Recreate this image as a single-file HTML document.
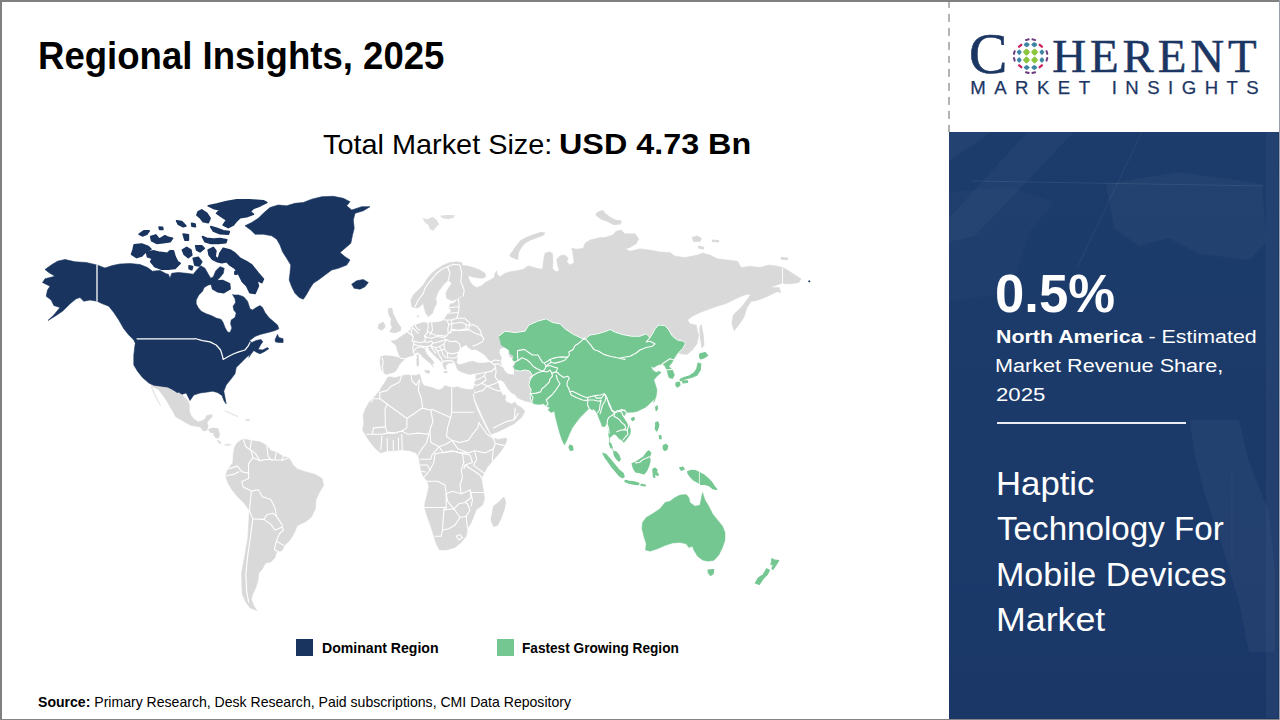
<!DOCTYPE html>
<html><head><meta charset="utf-8"><title>Regional Insights</title>
<style>
*{margin:0;padding:0;box-sizing:border-box}
html,body{width:1280px;height:720px;overflow:hidden;background:#fff}
body{font-family:"Liberation Sans",sans-serif;position:relative;color:#000}
.abs{position:absolute;white-space:nowrap;line-height:1;transform-origin:0 0}
#bt{position:absolute;left:0;top:0;width:1280px;height:2.4px;background:#808080}
#bl{position:absolute;left:0;top:0;width:2.2px;height:720px;background:#808080}
#bb{position:absolute;left:0;top:718.5px;width:1280px;height:1.5px;background:#858585}
#br{position:absolute;left:1278.8px;top:0;width:1.2px;height:720px;background:#9aa0ab}
#panel{position:absolute;left:949px;top:132px;width:330px;height:587px;background:linear-gradient(to bottom,#1c3c6c 0%,#1b3a6a 55%,#1a3768 100%);overflow:hidden}
#dash{position:absolute;left:948.4px;top:2px;width:1.4px;height:130px;background:repeating-linear-gradient(to bottom,#b4b4b4 0,#b4b4b4 7.9px,transparent 7.9px,transparent 13.9px);background-position:0 -2.1px}
.w{color:#fff}
</style></head><body>
<div id="bt"></div><div id="bl"></div><div id="bb"></div><div id="br"></div>
<div id="dash"></div>
<div id="panel"><svg width="329" height="586" viewBox="0 0 329 586" style="position:absolute;left:0;top:0">
<g fill="#fff">
<polygon points="0,0 42,0 0,29" opacity="0.035"/>
<polygon points="78,0 125,0 26,104 0,110 0,86" opacity="0.028"/>
<polygon points="0,60 60,55 105,70 80,100 60,160 0,170" opacity="0.02"/>
<polygon points="157,52 230,40 313,52 318,110 300,128 250,122 220,106 190,114 165,96" opacity="0.03"/>
<polygon points="241,288 290,288 300,330 320,380 326,440 326,520 300,520 290,470 275,420 255,360 245,320" opacity="0.04"/>
<rect x="317" y="0" width="12" height="586" opacity="0.035"/>
</g>
<g stroke="#fff" fill="none" stroke-width="0.8">
<path d="M23 49 L316 54" opacity="0.10"/>
<path d="M193 0 L128 136" opacity="0.08"/>
<path d="M283 338 L283 430" opacity="0.05"/>
</g>
</svg></div>

<div id="logo" style="position:absolute;left:0;top:0;width:1280px;height:132px;pointer-events:none">
<div class="abs" id="lgC" style="left:969px;top:24.5px;font-family:'Liberation Serif',serif;font-size:57.5px;color:#1c3664;-webkit-text-stroke:0.6px #1c3664">C</div>
<div class="abs" id="lgH" style="left:1052.3px;top:33.3px;font-family:'Liberation Serif',serif;font-size:46.9px;color:#1c3664;letter-spacing:3.9px;-webkit-text-stroke:0.5px #1c3664">HERENT</div>
<div class="abs" id="lgM" style="left:970.3px;top:79.3px;font-family:'Liberation Sans',sans-serif;font-size:18.6px;color:#1c3664;letter-spacing:8.45px;-webkit-text-stroke:0.25px #1c3664">MARKET INSIGHTS</div>
<svg style="position:absolute;left:1008px;top:33px" width="46" height="46" viewBox="1008 33 46 46">
<rect x="-2.78" y="-2.78" width="5.56" height="5.56" rx="1.5" transform="translate(1026.5 52.1) scale(1 1.000) rotate(45)" fill="#8cc63f"/>
<rect x="-2.78" y="-2.78" width="5.56" height="5.56" rx="1.5" transform="translate(1034.6 52.1) scale(1 1.000) rotate(45)" fill="#8cc63f"/>
<rect x="-2.78" y="-2.78" width="5.56" height="5.56" rx="1.5" transform="translate(1026.5 60.0) scale(1 1.000) rotate(45)" fill="#8cc63f"/>
<rect x="-2.78" y="-2.78" width="5.56" height="5.56" rx="1.5" transform="translate(1034.6 60.0) scale(1 1.000) rotate(45)" fill="#8cc63f"/>
<rect x="-2.45" y="-2.45" width="4.9" height="4.9" rx="1.4" transform="translate(1026.7 44.7) scale(1 0.844) rotate(45)" fill="#3f86a6"/>
<rect x="-2.45" y="-2.45" width="4.9" height="4.9" rx="1.4" transform="translate(1026.7 67.5) scale(1 0.844) rotate(45)" fill="#3f86a6"/>
<rect x="-2.45" y="-2.45" width="4.9" height="4.9" rx="1.4" transform="translate(1034.3 44.7) scale(1 0.844) rotate(45)" fill="#3f86a6"/>
<rect x="-2.45" y="-2.45" width="4.9" height="4.9" rx="1.4" transform="translate(1034.3 67.5) scale(1 0.844) rotate(45)" fill="#3f86a6"/>
<rect x="-1.91" y="-1.91" width="3.82" height="3.82" rx="1.1" transform="translate(1019.2 52.2) scale(1 1.185) rotate(45)" fill="#3f86a6"/>
<rect x="-1.91" y="-1.91" width="3.82" height="3.82" rx="1.1" transform="translate(1041.9 52.2) scale(1 1.185) rotate(45)" fill="#3f86a6"/>
<rect x="-1.91" y="-1.91" width="3.82" height="3.82" rx="1.1" transform="translate(1019.2 60.0) scale(1 1.185) rotate(45)" fill="#3f86a6"/>
<rect x="-1.91" y="-1.91" width="3.82" height="3.82" rx="1.1" transform="translate(1041.9 60.0) scale(1 1.185) rotate(45)" fill="#3f86a6"/>
<rect x="-2.50" y="-1.10" width="5.0" height="2.2" rx="0.7" transform="translate(1020.2 45.8) rotate(-40)" fill="#cc2262"/>
<rect x="-2.50" y="-1.10" width="5.0" height="2.2" rx="0.7" transform="translate(1040.8 45.8) rotate(40)" fill="#cc2262"/>
<rect x="-2.50" y="-1.10" width="5.0" height="2.2" rx="0.7" transform="translate(1020.2 66.3) rotate(40)" fill="#cc2262"/>
<rect x="-2.50" y="-1.10" width="5.0" height="2.2" rx="0.7" transform="translate(1040.8 66.3) rotate(-40)" fill="#cc2262"/>
<rect x="-2.30" y="-1.00" width="4.6" height="2.0" rx="0.7" transform="translate(1027.3 39.7) rotate(-15)" fill="#6d3b80"/>
<rect x="-2.30" y="-1.00" width="4.6" height="2.0" rx="0.7" transform="translate(1033.8 39.7) rotate(15)" fill="#6d3b80"/>
<rect x="-2.30" y="-1.00" width="4.6" height="2.0" rx="0.7" transform="translate(1027.3 72.6) rotate(15)" fill="#6d3b80"/>
<rect x="-2.30" y="-1.00" width="4.6" height="2.0" rx="0.7" transform="translate(1033.8 72.6) rotate(-15)" fill="#6d3b80"/>
<rect x="-2.30" y="-1.00" width="4.6" height="2.0" rx="0.7" transform="translate(1014.3 52.5) rotate(-75)" fill="#6d3b80"/>
<rect x="-2.30" y="-1.00" width="4.6" height="2.0" rx="0.7" transform="translate(1014.3 59.3) rotate(75)" fill="#6d3b80"/>
<rect x="-2.30" y="-1.00" width="4.6" height="2.0" rx="0.7" transform="translate(1046.9 52.5) rotate(75)" fill="#6d3b80"/>
<rect x="-2.30" y="-1.00" width="4.6" height="2.0" rx="0.7" transform="translate(1046.9 59.3) rotate(-75)" fill="#6d3b80"/>
</svg>
</div>
<svg id="map" style="position:absolute;left:0;top:0" width="1280" height="720" viewBox="0 0 1280 720">
<path d="M52 264.5 L57.5 261.2 L65 259.5 L75 261.8 L86.2 262.5 L97 265 L105 268 L112.5 265.5 L120 264 L130 263.5 L140 264.5 L147.5 267.5 L152.5 271.2 L160 270.5 L166.2 273.8 L168.3 274.2 L170 278.3 L171.7 273.3 L178.3 272.5 L186.7 273.3 L193.3 274.2 L196.7 270 L200.8 265.8 L205 268.3 L208.3 274.2 L210.8 278.3 L213.3 276.7 L215.8 270.8 L220 266.7 L224.2 268.3 L223.3 273.3 L220 277.5 L215.8 281.7 L213.3 284.2 L208.3 285 L204.2 287.5 L202.5 291.2 L198.8 295 L196.2 300 L196.2 303.8 L198.1 307.5 L201.2 311.2 L206.2 313.8 L211.2 315.6 L216.2 318.1 L221.2 319.4 L223.1 322.5 L225 327.5 L227.5 331.9 L230 332.5 L231.9 328.1 L230.6 323.8 L231.2 320 L235 317.5 L236.2 313.1 L233.8 310 L233.1 306.2 L235.6 302.5 L235 298.8 L232.5 294.4 L233.8 295 L238.8 295 L243.8 296.9 L247.5 301.2 L250 308.8 L252.5 310 L256.2 307.5 L260 305.6 L262.5 307.5 L265 312.5 L268.8 317.5 L273.1 321.2 L277.5 325 L278.8 328.8 L275 330.5 L270 332 L265 333.2 L260 334.5 L255 336.5 L249.4 340.8 L251.9 342.5 L256.2 340.5 L261 339.5 L262.8 341.8 L260.6 344.8 L258.1 349.4 L262.5 350 L267.5 347.5 L268.8 348.8 L263.8 351.9 L260 353.8 L256.9 352.5 L253.8 350.6 L251.2 353.8 L248.8 357.5 L250 354.2 L246.2 357.5 L240 363.8 L236.2 367.5 L235 373.8 L231.2 378.8 L226.2 385 L223.8 391.2 L225 397.5 L226.2 403.8 L224.2 401.2 L222 395.5 L217.5 392.5 L212.5 391.2 L207.5 392 L200 393 L193.8 395 L190 400.5 L186.2 393 L180 395 L175 391.2 L166.2 387.5 L153.8 385.5 L148.8 383 L142.5 377.5 L137.5 371.2 L133.8 365 L133.8 355 L135 345 L137 338.8 L136.2 345 L133.8 340 L128.8 335 L123.8 328.8 L118.8 320 L113.8 312.5 L108.8 306.2 L102.5 303.8 L97 301.2 L90 300 L83.8 301.2 L80 297.5 L76.2 298.8 L70 303.8 L62.5 311.2 L55 316.2 L48 320.5 L53.8 315 L60 307.5 L53.8 305.5 L51.2 300 L46.2 296.2 L47.5 290 L50 286.2 L42.5 282.5 L45 278.8 L55 276.2 L48.8 272.5 L45 269.5Z" fill="#19355f" stroke="#19355f" stroke-width="0.6" stroke-linejoin="round"/>
<path d="M275 340 L277.5 334.4 L278.8 337.5 L283.1 338.8 L283.1 342.5 L278.8 342.5 L275.6 341.9Z" fill="#19355f" stroke="#19355f" stroke-width="0.6" stroke-linejoin="round"/>
<path d="M208.3 205.8 L216.7 204.2 L226.7 201.7 L236.7 200 L250 200 L263.3 200.8 L266.7 202.5 L260 205.8 L253.3 208.3 L250 211.7 L253.3 214.2 L246.7 216.7 L240 217.5 L236.7 220.8 L233.3 225 L228.3 227.5 L223.3 225 L226.7 220 L221.7 216.7 L216.7 213.3 L220 210 L213.3 208.3Z" fill="#19355f" stroke="#19355f" stroke-width="1.8" stroke-linejoin="round"/>
<path d="M198.3 211.7 L201.7 210 L206.7 213.3 L210 218.3 L208.3 222.5 L203.3 221.7 L200 217.5 L197 215Z" fill="#19355f" stroke="#19355f" stroke-width="1.8" stroke-linejoin="round"/>
<path d="M202.5 236.7 L206.7 238.3 L213.3 239.2 L220 238.7 L226.7 240 L225.8 242.5 L218.3 243.3 L210.8 243.3 L205 241.7Z" fill="#19355f" stroke="#19355f" stroke-width="1.8" stroke-linejoin="round"/>
<path d="M210.8 226.7 L216.7 228.3 L223.3 230.8 L229.2 231.7 L228.3 234.2 L220 233.7 L213.3 230.8Z" fill="#19355f" stroke="#19355f" stroke-width="1.8" stroke-linejoin="round"/>
<path d="M139.2 234.2 L144.2 230.8 L149.2 230.8 L146.7 234.2 L142.5 235.8Z" fill="#19355f" stroke="#19355f" stroke-width="1.8" stroke-linejoin="round"/>
<path d="M150.8 236.7 L155.8 235 L159.2 239.2 L165 235.8 L168.3 237.5 L172.5 238.3 L170 241.7 L163.3 242.5 L156.7 243.3 L151.7 240.8Z" fill="#19355f" stroke="#19355f" stroke-width="1.8" stroke-linejoin="round"/>
<path d="M159.2 227.2 L162.5 227.5 L162.8 229.3 L159.7 229.3Z" fill="#19355f" stroke="#19355f" stroke-width="1.8" stroke-linejoin="round"/>
<path d="M176.7 220.8 L181.7 221.7 L185.8 225.8 L183.3 226.7 L178.3 224.2Z" fill="#19355f" stroke="#19355f" stroke-width="1.8" stroke-linejoin="round"/>
<path d="M183.3 234.2 L188.3 235 L188.3 240 L185 240Z" fill="#19355f" stroke="#19355f" stroke-width="1.8" stroke-linejoin="round"/>
<path d="M191.7 223.3 L195 224.2 L195.3 226.7 L192 226Z" fill="#19355f" stroke="#19355f" stroke-width="1.8" stroke-linejoin="round"/>
<path d="M134.2 245 L141.7 244.2 L148.3 246.7 L150.8 249.2 L145 252.5 L141.7 255.8 L136.7 257.5 L131.7 254.2 L133.3 249.2Z" fill="#19355f" stroke="#19355f" stroke-width="1.8" stroke-linejoin="round"/>
<path d="M146.7 252.5 L153.3 250.8 L160 252.5 L167.5 253.3 L170 250.8 L173.3 250.8 L175 256.7 L177.5 261.7 L180 263.3 L175 268.3 L168.3 269.2 L161.7 269.2 L155 266.7 L150.8 261.7 L152.5 258.3 L147.5 256.7Z" fill="#19355f" stroke="#19355f" stroke-width="1.8" stroke-linejoin="round"/>
<path d="M182.5 250 L186.7 247.5 L190.8 250 L191.7 255 L188.3 257.5 L184.2 254.2Z" fill="#19355f" stroke="#19355f" stroke-width="1.8" stroke-linejoin="round"/>
<path d="M193.3 258.3 L198.3 257.5 L201.7 261.7 L199.2 265.8 L195 265Z" fill="#19355f" stroke="#19355f" stroke-width="1.8" stroke-linejoin="round"/>
<path d="M195.8 245.8 L201.7 245.8 L204.2 248.3 L200 251.7 L196.7 250Z" fill="#19355f" stroke="#19355f" stroke-width="1.8" stroke-linejoin="round"/>
<path d="M189.2 265.8 L192.5 266.7 L191.7 269.7 L189.2 268.7Z" fill="#19355f" stroke="#19355f" stroke-width="1.8" stroke-linejoin="round"/>
<path d="M208.3 250 L213.3 247.5 L215.8 250.8 L215 256.7 L218.3 259.2 L220 253.3 L223.3 248.3 L230 250 L235 253.3 L240 258.3 L246.7 261.7 L251.7 265 L258.3 273.3 L263.3 279.2 L261.7 282.5 L256.7 280 L258.3 285.8 L255 293.3 L250 292.5 L246.7 285.8 L242.5 281.7 L239.2 275 L235 268.3 L230 265 L226.7 261.7 L221.7 262.5 L217.5 261.7 L212.5 259.2 L209.2 255Z" fill="#19355f" stroke="#19355f" stroke-width="1.8" stroke-linejoin="round"/>
<path d="M211.9 285 L216.2 281.2 L222.5 280.6 L229.4 283.8 L230 288.8 L223.8 292.5 L217.5 291.5 L212.8 288.8Z" fill="#19355f" stroke="#19355f" stroke-width="1.8" stroke-linejoin="round"/>
<path d="M235 271.7 L236.7 272 L236.7 274.2 L235 274Z" fill="#19355f" stroke="#19355f" stroke-width="1.8" stroke-linejoin="round"/>
<path d="M245 225.8 L251.7 222.5 L258.3 218.3 L263.3 213.3 L270 207.5 L278.3 205 L286.7 205.8 L295 203.3 L303.3 202.5 L311.7 199.2 L321.7 196.7 L333.3 196.3 L343.3 198.3 L350 201.7 L346.7 205.8 L351.7 210 L361.7 206.7 L370 206.7 L363.3 210.8 L355 213.3 L353.3 220 L354.2 228.3 L352.5 235 L350.8 243.3 L345 248.3 L340 252.5 L345 256.7 L350 260 L346.7 265 L338.3 268.3 L331.7 270 L325 275 L318.3 280 L313.3 283.3 L310 288.3 L306.7 294.2 L303.3 299.2 L299.2 297.5 L295 293.3 L291.7 286.7 L289.2 280 L290 273.3 L290.8 265 L286.7 258.3 L282.5 251.7 L280 245 L276.7 239.2 L271.7 235.8 L263.3 234.2 L255 234.2 L250.8 230Z" fill="#19355f" stroke="#19355f" stroke-width="0.6" stroke-linejoin="round"/>
<path d="M351.7 284.2 L356.7 280.8 L363.3 279.5 L368.3 282.5 L365 286.7 L360 289.2 L354.2 288.3Z" fill="#19355f" stroke="#19355f" stroke-width="0.6" stroke-linejoin="round"/>
<path d="M151.1 385.8 L167.8 387.8 L172.2 390 L176.7 393.3 L178.9 392.8 L182.2 395 L185.6 398.3 L188.3 401.3 L189.4 405.6 L189.4 411.1 L191.1 415.6 L193.9 418.9 L197.8 421.7 L201.7 421.1 L205 418.9 L206.7 415.6 L212.2 414.4 L211.7 417.2 L208.9 420 L206.7 422.8 L205 424.4 L203.3 426.7 L202.2 428.3 L198.9 426.7 L195 426.1 L191.1 425.6 L186.7 423.3 L181.1 420 L175.6 416.7 L173.3 412.2 L170 406.7 L166.1 400 L162.2 394.4 L158.3 389.4Z" fill="#d9d9d9" stroke="#d9d9d9" stroke-width="0.5" stroke-linejoin="round"/>
<path d="M202.8 423.9 L206.7 422.8 L207.8 425.6 L206.7 430 L203.3 430.6 L202 428.3Z" fill="#d9d9d9" stroke="#d9d9d9" stroke-width="1.2" stroke-linejoin="round"/>
<path d="M208.9 429.4 L213.3 428.3 L217.8 428.9 L218.3 431.1 L214.4 432.8 L210.6 432.2Z" fill="#d9d9d9" stroke="#d9d9d9" stroke-width="1.2" stroke-linejoin="round"/>
<path d="M214.4 432.8 L218.3 431.3 L219.4 434.4 L218.3 437.8 L215.6 437.2 L213.9 435Z" fill="#d9d9d9" stroke="#d9d9d9" stroke-width="1.2" stroke-linejoin="round"/>
<path d="M216.7 440 L219.4 440.6 L221.7 443.3 L220 443.9 L217.8 442.2Z" fill="#dddddd" stroke-linejoin="round"/>
<path d="M223.9 444.4 L227.8 443.6 L232.2 444.4 L228.9 446.1 L225 445.8Z" fill="#e6e6e6" stroke-linejoin="round"/>
<path d="M224.4 410.2 L228.9 411.7 L234.4 414.4 L238.3 416.1 L237.8 416.9 L233.3 415.6 L227.8 412.8 L224.2 411.1Z" fill="#e6e6e6" stroke-linejoin="round"/>
<path d="M245 419.4 L248.3 418.7 L251.1 420.2 L248.3 421.1 L245.6 420.9Z" fill="#e2e2e2" stroke-linejoin="round"/>
<path d="M150.6 386.7 L152.2 386.7 L155 393.3 L158.3 400 L161.1 405.6 L160 406.1 L156.7 400 L153.3 393.3Z" fill="#e8e8e8" stroke-linejoin="round"/>
<path d="M237.5 442.5 L243.1 438.9 L251.4 440.6 L259.7 441.7 L266.7 445.3 L270.8 450.8 L276.4 452.2 L283.3 456.4 L288.9 457.8 L293.1 464.7 L297.2 468.9 L305.6 471.7 L315.3 474.4 L322.2 478.6 L323.6 485.6 L319.4 492.5 L316.1 499.4 L315.3 509.2 L311.1 517.5 L305.6 521.7 L297.2 525.8 L294.4 532.8 L290.3 539.7 L284.7 545.3 L281.9 550.8 L276.4 552.2 L275 557.8 L270.8 561.9 L265.3 563.3 L262.5 568.9 L258.9 573.1 L257.8 581.4 L255.6 588.3 L252.8 593.9 L251.4 599.4 L254.2 606.4 L256.9 610.6 L250 607.8 L245.8 602.2 L242.2 593.9 L241.7 584.2 L241.7 571.7 L243.9 560.6 L245.8 549.4 L247.8 538.3 L248.6 524.4 L249.4 510.6 L244.4 503.6 L237.5 496.7 L231.9 489.7 L227.8 482.8 L225.6 475.8 L227.8 468.9 L232.8 462.8 L233.3 453.6 L234.7 446.7Z" fill="#d9d9d9" stroke="#d9d9d9" stroke-width="0.5" stroke-linejoin="round"/>
<path d="M387.2 377.8 L389.4 376.7 L395 377.8 L400.6 376.1 L406.1 375 L411.7 375 L416.1 375.6 L418.9 373.9 L419.7 374.7 L420.6 376.7 L421.7 382.2 L423.9 385.6 L429.4 386.7 L433.9 388.3 L438.3 390 L441.7 388.9 L445 385.6 L448.3 386.7 L452.8 387.8 L457.2 386.7 L461.7 388.3 L467.2 389.4 L472.8 389.4 L474.1 386.7 L474.2 392.5 L472.5 394.6 L474.2 401.9 L477.7 411.2 L481.9 419.6 L486 427.9 L490.2 435.2 L493.3 438.3 L498.5 439.4 L505.8 437.9 L507.1 439.6 L504.8 445.6 L499.6 452.9 L493.3 460.2 L487.1 467.5 L482.9 475.8 L481.2 477.5 L482.5 485 L483.8 492.5 L484.5 498.8 L482.5 505 L476.2 510 L473.8 516.2 L471.2 522.5 L467.5 528.8 L466.2 536.2 L461.2 542.5 L455 547.5 L446.2 550 L439.5 550 L436.2 543.8 L433.8 536.2 L431.2 527.5 L427.5 517.5 L424.5 507.5 L425 502.5 L427 495 L428.8 487.5 L427.5 481.2 L423.8 477.5 L421.2 471.2 L420 465 L418.8 457.5 L416.2 452.9 L410 450.8 L401.7 449.8 L393.3 450.8 L387.1 450.8 L380.8 452.9 L375.6 448.8 L370.4 442.5 L366.2 436.2 L362.5 430 L363.8 423.8 L363.1 415.4 L365.2 409.2 L369.4 401.9 L374.6 396.7 L379.8 390.4 L381.7 386.7 L385 382.2Z" fill="#d9d9d9" stroke="#d9d9d9" stroke-width="0.5" stroke-linejoin="round"/>
<path d="M503.8 497.5 L505.5 502.5 L503.8 510 L501.2 517.5 L497.5 525 L493.8 526.2 L491.2 520 L492.5 512.5 L493.8 506.2 L498.8 502.5Z" fill="#d9d9d9" stroke="#d9d9d9" stroke-width="1.2" stroke-linejoin="round"/>
<path d="M380.6 356.7 L385 355.6 L391.7 356.1 L397.2 357.2 L400.6 358.3 L398.9 354.4 L397.2 350 L396.1 345.6 L391.7 341.7 L391.1 340.9 L396.1 340 L400.6 336.7 L403.9 334.4 L407.2 332.2 L410.6 330 L411.7 326.7 L415 325 L420 323.3 L423.3 322.5 L428.3 323 L433.3 322.5 L440 321.7 L444.2 320 L445.8 316.7 L448.3 313.3 L451.7 310.8 L449.2 308.3 L450 304.2 L454.2 303 L458.3 298.7 L463.3 296.3 L460.8 296.3 L456.7 299.2 L451.7 300.8 L446.7 298.3 L445.8 293.3 L448.3 288.3 L451.7 283.3 L448.3 280 L443.3 285 L438.3 291.7 L435.8 298.3 L436.7 303.3 L434.2 308.3 L432.5 313.3 L428.3 316.7 L425.8 313.3 L424.2 308.3 L423.3 303.3 L420 306.7 L416.7 308.3 L411.7 306.7 L410.8 300 L413.3 295 L418.3 290 L423.3 285 L427.5 278.3 L431.7 273.3 L436.7 269.2 L443.3 265 L450 262.5 L456.7 261.7 L461.7 262.5 L462.5 265.8 L466.7 265.8 L473.3 267.5 L480 270 L485 273.3 L485.8 276.7 L482.5 278.3 L477.5 278 L471.7 276.7 L468.3 275.3 L469.2 280 L472.5 285 L476.7 287.5 L481.7 285.8 L485 282.5 L490 280 L494.2 277.5 L495 273.3 L496.7 270.8 L497.5 275 L500 276.7 L505 273.3 L510 271.7 L516.7 270.8 L523.3 269.2 L528.3 265.8 L531.7 266.7 L536.7 268.3 L542.5 269.2 L543.3 261.7 L545 253.3 L549.2 251.7 L552.5 253.3 L553 261.7 L552.5 268.3 L555.8 271.7 L559.2 270.8 L557.5 265 L556.7 259.2 L560 255.8 L565 255 L568.3 258.3 L566.7 261.7 L570 265 L574.2 262.5 L572.5 251.7 L571.7 248.3 L576.7 249.2 L583.3 248.3 L585 243.3 L590 240 L600 237.5 L605 237.5 L612.5 235 L616.2 231.2 L621.2 230 L625 233.8 L635 233.8 L638.8 238.8 L636.2 243.8 L630 247.5 L625 248.8 L630 251.2 L640 248.8 L650 250 L660 252 L670 252.5 L675 256.2 L685 257.5 L697.5 255 L702.5 253 L710 255 L717.5 258.8 L727.5 260 L737.5 261.2 L741.2 267.5 L750 266.2 L760 267.5 L768.8 265 L777.5 266.2 L782.5 267.5 L787.5 270 L795 275 L801.2 278.8 L798.8 282.5 L791.2 283.8 L785 283.8 L781.8 283.2 L770 287.5 L779.2 287.5 L780.8 292.5 L776.8 291.8 L766.8 296.8 L758.2 300 L750.8 301.8 L746.8 308.2 L744.2 316.8 L740 323.2 L734.2 330.8 L731.8 323.2 L733.2 315 L741.8 306.8 L746.8 300 L750.8 294.5 L746.2 294.5 L740 296.8 L726.8 303.2 L717.5 306.2 L710 308.8 L700 312.5 L692.5 316.2 L687.5 320 L690 323.8 L696.2 325 L697.5 331.2 L698.8 335 L697 343.8 L692.5 350 L687 354.5 L681.5 354 L670 350 L640 355 L602.5 372.5 L565 385 L540 395 L531.2 402.5 L526.7 401.5 L521.5 399.8 L517.3 397.7 L515.2 394.6 L511 392.5 L506.9 387.3 L503.8 382.1 L500 379.6 L497.9 382.1 L499.2 387.3 L501.2 392.5 L503.3 395.6 L505.2 394.6 L505.8 398.3 L504.8 399.8 L506.9 401.9 L511.7 404 L515.2 401.9 L516.7 405 L520.8 407.1 L525 411.2 L521.5 417.5 L514.2 423.8 L505.8 427.9 L497.5 432.1 L491.2 434.2 L489.2 430 L484 419.6 L478.8 408.1 L475 399.2 L474.2 394.6 L475.6 392.5 L474.6 389.4 L474.4 384.4 L475.6 380 L476.1 374.4 L473.9 373.3 L470.6 374.4 L467.2 373.9 L463.9 372.8 L460.6 371.7 L457.8 370 L456.7 367.8 L456.1 365.6 L455.2 363.3 L454.4 362.8 L451.7 362.8 L448.3 363.3 L447.2 364.4 L445.6 366.1 L446.1 368.9 L445.6 370.2 L443.9 367.8 L442.8 364.4 L441.7 362.8 L440 360.6 L437.4 358.3 L434.7 355.8 L431.9 352.8 L429.1 349.8 L427.2 347.2 L424.8 348.3 L425.2 351.1 L426.8 353.9 L429 356.7 L431.4 359.1 L433.4 361.6 L434.1 363.8 L431.9 363.8 L432.6 365.6 L433.3 367.2 L431.7 365 L430 363.1 L428.3 361.7 L425.6 359.4 L422.8 357.2 L420.6 354.4 L417.8 352.2 L415 353.3 L413.3 355.6 L410.6 356.1 L407.2 357.2 L405 358.3 L403.9 360 L401.1 362.8 L398.9 365.6 L397.2 368.9 L395 371.7 L390.6 373.3 L386.1 374.4 L383.3 372.8 L381.1 368.9 L380 362.2Z" fill="#d9d9d9" stroke="#d9d9d9" stroke-width="0.5" stroke-linejoin="round"/>
<path d="M388.3 309.2 L391.7 308.3 L392.5 313.3 L395 318.3 L397.5 323.3 L400.8 327.5 L400 330.8 L395 332.5 L390 331.7 L392.5 327.5 L390.8 323.3 L391.7 319.2 L389.2 315Z" fill="#d9d9d9" stroke="#d9d9d9" stroke-width="1.2" stroke-linejoin="round"/>
<path d="M379.2 324.2 L383.3 322.5 L385 326.7 L381.7 330 L378.3 328.3Z" fill="#d9d9d9" stroke="#d9d9d9" stroke-width="1.2" stroke-linejoin="round"/>
<path d="M416.6 315.2 L418.8 315 L419 317.5 L417 317.6Z" fill="#e4e4e4" stroke-linejoin="round"/>
<path d="M425 370.6 L429.4 371.1 L428.9 373.1 L426.1 372.2Z" fill="#d9d9d9" stroke="#d9d9d9" stroke-width="1.2" stroke-linejoin="round"/>
<path d="M417 358.9 L418.3 358.9 L418.3 365.6 L417.2 365.6Z" fill="#d9d9d9" stroke="#d9d9d9" stroke-width="1.2" stroke-linejoin="round"/>
<path d="M417.2 355 L418.1 355 L418.1 357.8 L417.3 357.8Z" fill="#d9d9d9" stroke="#d9d9d9" stroke-width="1.2" stroke-linejoin="round"/>
<path d="M444.1 371.8 L447 371.8 L447 372.4 L444.3 372.4Z" fill="#d9d9d9" stroke="#d9d9d9" stroke-width="1.2" stroke-linejoin="round"/>
<path d="M422.5 218.3 L427.5 219.2 L432.5 216.7 L436.7 220 L439.2 224.2 L435.8 227.5 L433.3 230.8 L430 229.2 L428.3 225 L425 222.5Z" fill="#dedede" stroke-linejoin="round"/>
<path d="M440 215.8 L446.7 215 L455 215.3 L453.3 218 L448.3 219.2 L442.5 218.3Z" fill="#dedede" stroke-linejoin="round"/>
<path d="M510 255 L513.3 250.8 L516.7 245.8 L520.8 240.8 L526.7 237.5 L533.3 235 L540.8 232.5 L544.7 233 L543.3 235 L536.7 237.5 L530 240 L524.2 243.3 L520.8 247.5 L518.3 252.5 L517.5 259.2 L515 258.3 L511.7 257Z" fill="#d9d9d9" stroke="#d9d9d9" stroke-width="1.2" stroke-linejoin="round"/>
<path d="M597.5 212.5 L602.5 210.5 L605 213.8 L610 217.5 L615 220 L621.2 221.2 L620 223.8 L613.8 224.5 L607.5 221.2 L601.2 218.8 L596.2 215Z" fill="#d9d9d9" stroke="#d9d9d9" stroke-width="1.2" stroke-linejoin="round"/>
<path d="M692.5 237.5 L697.5 236.2 L701.2 238.8 L700 241.2 L693.8 241.2Z" fill="#d9d9d9" stroke="#d9d9d9" stroke-width="1.2" stroke-linejoin="round"/>
<path d="M712.5 240 L718.8 240.8 L718 242 L712.5 241.5Z" fill="#d9d9d9" stroke="#d9d9d9" stroke-width="1.2" stroke-linejoin="round"/>
<path d="M698.8 246.2 L703.8 247.5 L703 249 L698.8 248Z" fill="#d9d9d9" stroke="#d9d9d9" stroke-width="1.2" stroke-linejoin="round"/>
<path d="M781.2 257.5 L787.5 258 L787.5 259.5 L781.8 259.2Z" fill="#d9d9d9" stroke="#d9d9d9" stroke-width="1.2" stroke-linejoin="round"/>
<path d="M701.2 325 L703 335 L703.8 345 L702 347.5 L700.5 337.5 L700 327.5Z" fill="#d9d9d9" stroke="#d9d9d9" stroke-width="1.2" stroke-linejoin="round"/>
<path d="M457.8 353.3 L459.4 348.9 L462.8 346.7 L466.1 345 L468.3 347.8 L471.7 350 L475 349.4 L478.3 351.1 L481.7 353.3 L485 355.6 L487.2 358.3 L490.6 361.7 L483.9 362.8 L478.3 362.8 L472.8 361.1 L468.3 361.7 L463.9 363.3 L459.4 364.4 L456.7 362.8 L457.8 357.8Z" fill="#ffffff" stroke-linejoin="round"/>
<path d="M500 348.9 L503.9 347.8 L508.3 346.7 L510 350 L508.3 353.3 L509.4 356.7 L513.9 358.9 L513.9 364.4 L512.2 366.7 L513.9 368.9 L513.9 374.4 L508.3 373.9 L505 371.1 L502.8 366.7 L500.6 362.2 L501.7 357.8 L499.4 353.3Z" fill="#ffffff" stroke-linejoin="round"/>
<path d="M498.8 336.2 L505 331.2 L515 332.5 L525 331.2 L528.8 325 L537.5 321.2 L546.2 318.8 L552.5 322.5 L560 323.8 L565 328.8 L572.5 333.8 L580 337.5 L584.5 339.5 L590 335 L597.5 333.8 L606.2 331.2 L610 329.5 L615 332 L622.5 334.5 L631.2 336.2 L640 336.2 L646.2 333.8 L650 337.5 L652.5 333.8 L655 328.8 L658.8 325 L665 325.5 L668.8 330 L672.5 336.2 L677.5 340 L683.8 341.2 L685.5 343.8 L682.5 348.8 L678.8 352.5 L676.2 356.2 L673.8 360 L671.2 363.8 L668.8 366.2 L672.5 370 L674.5 375 L672.5 378.8 L668.8 377.5 L667.5 372.5 L666.2 368.8 L665 366.2 L662.5 363.8 L658 365 L653.8 367.5 L651.2 366.2 L652.5 370 L656.2 372.5 L658.8 371.2 L661.2 372.5 L657 376.2 L653.8 380 L655.5 385 L657 390 L656.2 396.2 L653.8 402.5 L654.3 398.3 L652.9 400.4 L649.4 403.9 L645.3 407.4 L641.1 409.4 L636.9 411.5 L632.8 412.2 L628.6 412.2 L625.8 412.9 L623.8 416.4 L625.1 419.9 L627.2 422.6 L629.3 426.1 L630.7 430.3 L630 434.4 L627.2 438.6 L623.8 442.5 L621.7 440 L618.9 438.6 L616.8 435.8 L614.7 434.2 L612.6 435.1 L610.8 436.9 L609.7 437.9 L608.8 436.5 L608.5 430.3 L607.8 425.4 L606.4 424 L604.7 426.8 L602.2 426.4 L600.8 422.6 L598.8 417.8 L597.4 413.6 L595.3 410.8 L593.2 408.8 L592.5 410 L588.8 408.8 L586.2 411.2 L583.8 413.8 L580 417.5 L576.2 422.5 L572.5 427.5 L569.5 433.8 L567 440 L564.5 445 L562 440 L559.5 432.5 L557.5 425 L555.5 417.5 L554.5 411.2 L551.2 412.5 L548 410 L550 407.5 L546.2 406.2 L543.8 403.8 L538.8 404.5 L533.8 403.8 L531.2 402.5 L530 395 L531.2 390 L528.8 385 L530 380 L532.5 376.2 L530 371.2 L525 370 L520 371.2 L515 370 L513.8 366.2 L516.2 362.5 L512.5 360 L513.8 356.2 L510 353.8 L508.8 350 L505 347.5 L501.2 345 L500 340Z" fill="#75c792" stroke="#75c792" stroke-width="0.5" stroke-linejoin="round"/>
<path d="M570 445 L572.5 446.2 L573 450 L570.5 450.5 L569 447.5Z" fill="#75c792" stroke="#75c792" stroke-width="1.2" stroke-linejoin="round"/>
<path d="M608.9 437.5 L609.9 437.5 L610.3 443.1 L609.3 443.1Z" fill="#a6dbbd" stroke-linejoin="round"/>
<path d="M609.3 443.2 L610.7 443.5 L612.2 447.5 L611 447.8Z" fill="#75c792" stroke="#75c792" stroke-width="1.2" stroke-linejoin="round"/>
<path d="M611.4 448.1 L612.4 447.8 L614.2 451.4 L613.3 451.8Z" fill="#a6dbbd" stroke-linejoin="round"/>
<path d="M613.8 451.5 L616.4 452.1 L618.9 455.3 L620.3 459.4 L618.9 461.1 L616.4 458.8 L614.2 455.3Z" fill="#75c792" stroke="#75c792" stroke-width="1.2" stroke-linejoin="round"/>
<path d="M655.7 406.7 L657.1 406 L657.5 408.8 L656.1 410.6Z" fill="#75c792" stroke="#75c792" stroke-width="1.2" stroke-linejoin="round"/>
<path d="M631.4 418.5 L633.9 417.5 L634.4 419.2 L632.5 420.6Z" fill="#75c792" stroke="#75c792" stroke-width="1.2" stroke-linejoin="round"/>
<path d="M700 353.8 L705 352.5 L707.5 355.5 L703.8 358 L700.5 358.8 L699.5 356.2Z" fill="#75c792" stroke="#75c792" stroke-width="1.2" stroke-linejoin="round"/>
<path d="M698.2 363 L700.8 364 L700.2 370 L697 375 L691.5 377.5 L685.2 379 L680.8 380.8 L680 379.5 L684 377.5 L689.8 375.8 L694.2 372.8 L696.8 369 L697.5 365.5Z" fill="#75c792" stroke="#75c792" stroke-width="1.2" stroke-linejoin="round"/>
<path d="M676.2 382.5 L679.2 382 L680 385 L677.5 387 L675.8 385Z" fill="#75c792" stroke="#75c792" stroke-width="1.2" stroke-linejoin="round"/>
<path d="M682.5 381 L687.5 380.8 L687.5 382.5 L683 382.8Z" fill="#75c792" stroke="#75c792" stroke-width="1.2" stroke-linejoin="round"/>
<path d="M655.7 422.6 L657.8 421.9 L658.9 424.7 L657.8 428.9 L656.7 431 L655.3 428.9 L655.7 425.4Z" fill="#75c792" stroke="#75c792" stroke-width="1.2" stroke-linejoin="round"/>
<path d="M663.3 445.6 L666.1 444.4 L667.8 446.2 L666.8 449.7 L664.4 450.4 L663.1 448.3Z" fill="#75c792" stroke="#75c792" stroke-width="1.2" stroke-linejoin="round"/>
<path d="M659.2 435.8 L660.8 435.6 L661.2 438.6 L659.9 438.9Z" fill="#75c792" stroke="#75c792" stroke-width="1.2" stroke-linejoin="round"/>
<path d="M602.9 453.2 L605.7 454.2 L609.2 458.1 L612.6 462.2 L616.1 466.4 L619.6 470.6 L623.1 473.3 L624.2 476.8 L622.4 477.8 L618.9 475.4 L615.4 471.2 L611.9 467.1 L608.5 462.2 L605 457.4Z" fill="#75c792" stroke="#75c792" stroke-width="1.2" stroke-linejoin="round"/>
<path d="M625.1 480.3 L628.6 481 L634.2 481.9 L639 483.3 L638.3 484.7 L633.5 484.2 L627.9 482.8 L625.1 481.7Z" fill="#75c792" stroke="#75c792" stroke-width="1.2" stroke-linejoin="round"/>
<path d="M641.1 484.4 L645.3 485 L645.3 485.8 L641.1 485.4Z" fill="#75c792" stroke="#75c792" stroke-width="1.2" stroke-linejoin="round"/>
<path d="M632.1 463.6 L635.6 462.2 L639.7 459.4 L643.9 456.7 L646.7 452.5 L648.8 450.8 L650.8 453.2 L649.4 456.7 L650.1 460.8 L648.8 465.7 L646.7 470.6 L643.9 474 L639.7 472.6 L635.6 471.9 L633.5 468.5Z" fill="#75c792" stroke="#75c792" stroke-width="1.2" stroke-linejoin="round"/>
<path d="M652.9 469.2 L655 468.1 L657.1 469.9 L656.4 471.9 L658.5 474.7 L657.1 475.4 L655 473.3 L654.7 477.5 L653.3 476.8Z" fill="#75c792" stroke="#75c792" stroke-width="1.2" stroke-linejoin="round"/>
<path d="M679.7 467.8 L682.8 467.1 L684.2 469.2 L681.4 470.3Z" fill="#75c792" stroke="#75c792" stroke-width="1.2" stroke-linejoin="round"/>
<path d="M687.6 471.9 L691.1 470.3 L695.3 470.6 L699.4 472.6 L703.6 474.7 L707.8 478.2 L711.2 481.7 L714 485.8 L716.8 489.3 L713.3 488.9 L709.2 485.8 L705 484.4 L700.8 484.4 L698.1 482.4 L693.9 480.3 L690.4 476.8 L688.3 474Z" fill="#75c792" stroke="#75c792" stroke-width="1.2" stroke-linejoin="round"/>
<path d="M642.5 522.5 L646.2 517.5 L652.5 513.8 L660 508.8 L665 502.5 L670 501.2 L675 497.5 L680 495 L686.2 494.5 L688.8 497.5 L690 502.5 L695 506.2 L700 505 L701.2 498.8 L702.5 492.5 L705 500 L708.8 506.2 L712.5 513.8 L717.5 520 L722.5 526.2 L725 532.5 L725 540 L722.5 547.5 L718.8 555 L713.8 560.5 L707.5 561.2 L702.5 560 L697.5 556.2 L693.8 550 L692.5 546.2 L688.8 547.5 L686.2 543.8 L680 542.5 L672.5 543 L665 545.5 L657.5 548.8 L650 551.2 L645.5 550 L646.2 543.8 L643.8 536.2 L642 528.8Z" fill="#75c792" stroke="#75c792" stroke-width="0.5" stroke-linejoin="round"/>
<path d="M708 570 L713.8 569.5 L713 573.8 L710.5 575.5 L708.5 573Z" fill="#75c792" stroke="#75c792" stroke-width="1.2" stroke-linejoin="round"/>
<path d="M771.9 558.7 L775 560.2 L778.7 560.6 L775.3 566 L772.9 569.4 L771.9 568.4 L773.4 565 L770.9 564.5 L771.8 561.5Z" fill="#75c792" stroke="#75c792" stroke-width="1.2" stroke-linejoin="round"/>
<path d="M766.6 568.9 L769.5 570.3 L767.1 574.7 L763.2 578.6 L759.3 584.4 L755.4 583 L758.3 578.1 L763.2 574.7Z" fill="#75c792" stroke="#75c792" stroke-width="1.2" stroke-linejoin="round"/>
<path d="M808.7 280.8 L809.9 280.8 L809.9 282 L808.7 282Z" fill="#19355f" stroke="#19355f" stroke-width="0.6" stroke-linejoin="round"/>
<path d="M97 265 L97 301.2" fill="none" stroke="#fff" stroke-width="1.3" stroke-linejoin="round" stroke-linecap="round"/>
<path d="M137 338.8 L195 338.8 L195 338.5 L202.5 340.6 L210 341.9 L216.2 345 L220.6 350 L222.5 356.2 L223.1 359.4 L228.8 356.2 L233.8 353.8 L238.8 351.9 L245 350 L248.1 346.2 L250 342.5" fill="none" stroke="#fff" stroke-width="1.2" stroke-linejoin="round" stroke-linecap="round"/>
<path d="M227.8 468.9 L237.5 466.1 L241.7 471.7" fill="none" stroke="#fff" stroke-width="1.1" stroke-linejoin="round" stroke-linecap="round"/>
<path d="M226.4 475.8 L233.3 474.4 L238.9 471.7" fill="none" stroke="#fff" stroke-width="1.1" stroke-linejoin="round" stroke-linecap="round"/>
<path d="M241.7 471.7 L248.6 473.1 L248.6 478.6 L241.7 481.4 L243.1 486.9 L251.4 491.1 L250.6 499.4 L249.4 510.6" fill="none" stroke="#fff" stroke-width="1.1" stroke-linejoin="round" stroke-linecap="round"/>
<path d="M251.4 491.1 L258.3 489.7 L262.5 496.7 L270.8 499.4 L275 507.8 L276.4 516.1 L281.9 524.4 L283.3 530 L279.2 534.2 L276.4 541.1 L283.3 545.3" fill="none" stroke="#fff" stroke-width="1.1" stroke-linejoin="round" stroke-linecap="round"/>
<path d="M249.4 510.6 L252.8 518.9 L263.9 519.4 L266.7 514.7 L272.8 513.3 L276.4 516.1" fill="none" stroke="#fff" stroke-width="1.1" stroke-linejoin="round" stroke-linecap="round"/>
<path d="M263.9 519.4 L270.8 524.4 L275 530 L281.9 527.2" fill="none" stroke="#fff" stroke-width="1.1" stroke-linejoin="round" stroke-linecap="round"/>
<path d="M252.8 518.9 L250.6 535.6 L247.8 555 L245.8 574.4 L246.7 591.1 L248.6 602.2" fill="none" stroke="#fff" stroke-width="1.1" stroke-linejoin="round" stroke-linecap="round"/>
<path d="M276.4 541.1 L274.4 549.4 L279.2 552.2" fill="none" stroke="#fff" stroke-width="1.1" stroke-linejoin="round" stroke-linecap="round"/>
<path d="M251.4 440.6 L250 449.4 L255.6 453.6 L259.7 460.6" fill="none" stroke="#fff" stroke-width="1.1" stroke-linejoin="round" stroke-linecap="round"/>
<path d="M266.7 445.3 L268.1 456.4 L272.2 460.6" fill="none" stroke="#fff" stroke-width="1.1" stroke-linejoin="round" stroke-linecap="round"/>
<path d="M276.4 452.2 L275 459.2" fill="none" stroke="#fff" stroke-width="1.1" stroke-linejoin="round" stroke-linecap="round"/>
<path d="M283.3 456.4 L281.9 460.6" fill="none" stroke="#fff" stroke-width="1.1" stroke-linejoin="round" stroke-linecap="round"/>
<path d="M243.1 438.9 L245.8 446.7 L251.4 450.8 L252.8 457.8 L248.6 463.3 L248.6 473.1" fill="none" stroke="#fff" stroke-width="1.1" stroke-linejoin="round" stroke-linecap="round"/>
<path d="M252.8 457.8 L259.7 460.6 L268.1 459.2 L275 460 L283.3 460 L288.9 457.8" fill="none" stroke="#fff" stroke-width="1.1" stroke-linejoin="round" stroke-linecap="round"/>
<path d="M699.4 472.6 L699.4 485.8" fill="none" stroke="#fff" stroke-width="0.8" stroke-linejoin="round" stroke-linecap="round"/>
<path d="M517.5 350.6 L524.4 349.4 L528.8 352.5 L532.5 355 L538.1 355 L540.6 359.4 L542.5 362.5 L544.4 363.1 L547.5 361.2 L550 359.4 L553.8 358.1 L557.5 357.2 L562.5 356.9 L567.5 357.2 L569.4 355 L568.8 351.9 L573.1 349.4 L575 345.6 L578.1 343.8 L581.2 341.2 L584.4 338.1" fill="none" stroke="#fff" stroke-width="1.1" stroke-linejoin="round" stroke-linecap="round"/>
<path d="M517.5 350.6 L517.5 356.2 L518.1 360.6 L521.9 357.8 L526.2 359.4 L530 362.5 L533.1 366.2 L536.9 368.8 L541.2 370.6 L543.1 371.2" fill="none" stroke="#fff" stroke-width="1.1" stroke-linejoin="round" stroke-linecap="round"/>
<path d="M513.8 362.5 L518.1 360.6" fill="none" stroke="#fff" stroke-width="1.1" stroke-linejoin="round" stroke-linecap="round"/>
<path d="M529.4 378.1 L533.8 375 L538.1 372.5 L543.1 371.2 L547.5 371.9 L550 370 L551.9 373.1 L556.2 371.9 L557.5 372.5" fill="none" stroke="#fff" stroke-width="1.1" stroke-linejoin="round" stroke-linecap="round"/>
<path d="M551.9 373.1 L552.5 376.2 L550 378.8 L549.4 381.9 L546.9 384.4 L544.4 386.9 L541.9 388.8 L540.6 391.9 L536.2 393.1 L530.6 393.8" fill="none" stroke="#fff" stroke-width="1.1" stroke-linejoin="round" stroke-linecap="round"/>
<path d="M530.6 393.8 L533.1 397.5 L531.9 401.2 L532.5 405.6" fill="none" stroke="#fff" stroke-width="1.1" stroke-linejoin="round" stroke-linecap="round"/>
<path d="M556.2 375 L557.5 380 L560 383.8 L557.5 387.5 L555 391.2 L551.9 395 L548.8 397.5 L546.2 400 L548.1 403.8 L546.2 406.2 L545 408.1" fill="none" stroke="#fff" stroke-width="1.1" stroke-linejoin="round" stroke-linecap="round"/>
<path d="M557.5 372.5 L560 375 L563.8 377.5 L567.5 376.2 L569.4 378.1 L567.5 381.2 L566.9 385 L568.8 388.8 L570 391.9 L572.5 391.2 L576.2 393.1 L581.2 395.6 L586.2 397.5 L590 396.9 L595 395.6 L600 395 L604.4 393.8 L606.2 396.2 L607.5 400 L610 405 L611.9 410 L615 412.5 L620 411.2 L625 410" fill="none" stroke="#fff" stroke-width="1.1" stroke-linejoin="round" stroke-linecap="round"/>
<path d="M570 391.9 L571.2 395 L576.2 397.5 L582.5 400 L586.9 400.6 L588.1 397.5" fill="none" stroke="#fff" stroke-width="1.1" stroke-linejoin="round" stroke-linecap="round"/>
<path d="M595 396 L596.2 398.1 L601.2 398.1 L603.8 395" fill="none" stroke="#fff" stroke-width="1.1" stroke-linejoin="round" stroke-linecap="round"/>
<path d="M588.1 400 L587.5 405 L589.4 408.8 L591.2 411.2" fill="none" stroke="#fff" stroke-width="1.1" stroke-linejoin="round" stroke-linecap="round"/>
<path d="M588.1 400 L593.8 400 L598.8 401.2 L601.2 400 L600 405 L599.4 410 L597.5 412.5" fill="none" stroke="#fff" stroke-width="1.1" stroke-linejoin="round" stroke-linecap="round"/>
<path d="M606.2 396.2 L605 401.2 L602.5 405 L601.2 410 L600 413.8" fill="none" stroke="#fff" stroke-width="1.1" stroke-linejoin="round" stroke-linecap="round"/>
<path d="M550 359.4 L551.2 362.5 L555 363.1 L560 361.9 L565 360 L567.5 357.2" fill="none" stroke="#fff" stroke-width="1.1" stroke-linejoin="round" stroke-linecap="round"/>
<path d="M544.4 363.1 L546.2 366.2 L550 365.6 L553.8 366.9 L557.5 368.1 L556.2 371.9" fill="none" stroke="#fff" stroke-width="1.1" stroke-linejoin="round" stroke-linecap="round"/>
<path d="M546.2 366.2 L545 368.8 L543.1 371.2" fill="none" stroke="#fff" stroke-width="1.1" stroke-linejoin="round" stroke-linecap="round"/>
<path d="M551.2 362.5 L548.8 363.8 L546.2 366.2" fill="none" stroke="#fff" stroke-width="1.1" stroke-linejoin="round" stroke-linecap="round"/>
<path d="M584.4 338.1 L587.5 341.2 L591.2 345.6 L593.8 349.4 L598.8 351.2 L603.8 354.4 L610 356.2 L616.2 357.5 L621.2 358.8 L625 359.4" fill="none" stroke="#fff" stroke-width="1.1" stroke-linejoin="round" stroke-linecap="round"/>
<path d="M620 358 L630 356.2 L636.2 353 L640 350 L646.2 347.5 L652.5 346.2 L655 343.8 L650 341.2 L646.2 342 L650 337.5" fill="none" stroke="#fff" stroke-width="1.1" stroke-linejoin="round" stroke-linecap="round"/>
<path d="M662.5 363.8 L666.2 361.2 L670 358.8 L673.8 360" fill="none" stroke="#fff" stroke-width="1.1" stroke-linejoin="round" stroke-linecap="round"/>
<path d="M666.2 370 L672 369.5" fill="none" stroke="#fff" stroke-width="1.1" stroke-linejoin="round" stroke-linecap="round"/>
<path d="M498.8 336.2 L505 331.2 L515 332.5 L525 331.2 L528.8 325 L537.5 321.2 L546.2 318.8 L552.5 322.5 L560 323.8 L565 328.8 L572.5 333.8 L580 337.5 L584.5 339.5 L590 335 L597.5 333.8 L606.2 331.2 L610 329.5 L615 332 L622.5 334.5 L631.2 336.2 L640 336.2 L646.2 333.8 L650 337.5 L652.5 333.8 L655 328.8 L658.8 325 L665 325.5 L668.8 330 L672.5 336.2 L677.5 340 L683.8 341.2 L685.5 343.8 L682.5 348.8 L678.8 352.5 L676.2 356.2 L673.8 360" fill="none" stroke="#fff" stroke-width="1.0" stroke-linejoin="round" stroke-linecap="round"/>
<path d="M531.2 402.5 L530 395 L531.2 390 L528.8 385 L530 380 L532.5 376.2 L530 371.2 L525 370 L520 371.2 L515 370" fill="none" stroke="#fff" stroke-width="1.0" stroke-linejoin="round" stroke-linecap="round"/>
<path d="M604.3 394.2 L607.1 398.3 L609.2 405.3 L611.9 410.8 L614.7 412.9 L612.6 415 L609.2 417.1 L607.5 419.9 L607.1 424 L608.5 428.2 L609.2 433.1" fill="none" stroke="#fff" stroke-width="1.1" stroke-linejoin="round" stroke-linecap="round"/>
<path d="M614.7 412.9 L614 416.4 L616.8 417.8 L619.6 419.9 L621.7 422.6 L624.4 424.7 L625.8 427.5 L624.4 429.6" fill="none" stroke="#fff" stroke-width="1.1" stroke-linejoin="round" stroke-linecap="round"/>
<path d="M618.9 410.8 L621.7 412.2 L623.1 415.7 L625.8 419.2 L627.9 422.6 L628.6 426.1 L627.2 430" fill="none" stroke="#fff" stroke-width="1.1" stroke-linejoin="round" stroke-linecap="round"/>
<path d="M614.7 412.9 L616.8 410.8 L618.9 410.8 L621.7 409.4 L624.4 410.8 L626.5 412.2" fill="none" stroke="#fff" stroke-width="1.1" stroke-linejoin="round" stroke-linecap="round"/>
<path d="M616.8 431.7 L620.3 430.3 L624.4 429.6 L627.2 430.3 L627.9 434.4 L625.1 437.2 L623.1 440" fill="none" stroke="#fff" stroke-width="1.1" stroke-linejoin="round" stroke-linecap="round"/>
<path d="M635.6 462.9 L639.7 462.2 L643.2 459.4 L646.7 458.1 L649.4 456.7" fill="none" stroke="#fff" stroke-width="1.1" stroke-linejoin="round" stroke-linecap="round"/>
<path d="M382.2 357.8 L383.3 362.2 L382.2 366.7 L383.3 372.2" fill="none" stroke="#fff" stroke-width="1.1" stroke-linejoin="round" stroke-linecap="round"/>
<path d="M400.6 358.3 L405 358.7" fill="none" stroke="#fff" stroke-width="1.1" stroke-linejoin="round" stroke-linecap="round"/>
<path d="M412.8 326.7 L411.1 332.2 L413.3 336.7 L412.2 340.6 L413.9 343.3 L412.8 347.8 L413.3 352.2 L414.4 353.9" fill="none" stroke="#fff" stroke-width="1.1" stroke-linejoin="round" stroke-linecap="round"/>
<path d="M407.2 331.7 L410.6 334.4 L413.3 336.7" fill="none" stroke="#fff" stroke-width="1.1" stroke-linejoin="round" stroke-linecap="round"/>
<path d="M413.9 341.1 L419.4 342.8 L423.9 341.7 L425.6 339.4 L424.4 335.6 L427.2 333.3 L427.2 331.1 L428.3 326.7 L427.8 322.2" fill="none" stroke="#fff" stroke-width="1.1" stroke-linejoin="round" stroke-linecap="round"/>
<path d="M427.8 331.1 L430.6 333.3 L435 335 L440.6 335.6 L446.1 336.1 L448.3 333.3 L447.8 328.9 L448.9 324.4 L447.2 321.1" fill="none" stroke="#fff" stroke-width="1.1" stroke-linejoin="round" stroke-linecap="round"/>
<path d="M424.4 335.6 L427.2 337.2 L431.7 338.3 L435.6 336.7 L439.4 336.7 L443.9 337.8 L446.1 336.1" fill="none" stroke="#fff" stroke-width="1.1" stroke-linejoin="round" stroke-linecap="round"/>
<path d="M413.9 343.9 L417.2 345.6 L421.7 346.1 L426.1 346.7 L430.6 345.6 L432.8 343.3 L431.7 341.1 L427.2 342.2 L423.9 341.7" fill="none" stroke="#fff" stroke-width="1.1" stroke-linejoin="round" stroke-linecap="round"/>
<path d="M432.8 343.3 L437.2 342.2 L442.8 340.6 L446.1 339.4 L443.9 343.9 L439.4 346.7 L435 347.8 L431.7 346.1 L430.6 345.6" fill="none" stroke="#fff" stroke-width="1.1" stroke-linejoin="round" stroke-linecap="round"/>
<path d="M446.1 339.4 L450.6 341.7 L456.1 341.1 L459.4 343.9 L460.6 348.3" fill="none" stroke="#fff" stroke-width="1.1" stroke-linejoin="round" stroke-linecap="round"/>
<path d="M458.3 352.2 L452.8 353.9 L447.2 352.8 L444.4 348.9 L443.9 343.9" fill="none" stroke="#fff" stroke-width="1.1" stroke-linejoin="round" stroke-linecap="round"/>
<path d="M448.3 333.3 L452.8 330.6 L459.4 330 L466.1 328.9 L470.6 330.6 L475 333.3 L481.7 335.6 L483.9 338.9 L481.7 342.2 L477.2 344.4 L472.8 346.1" fill="none" stroke="#fff" stroke-width="1.1" stroke-linejoin="round" stroke-linecap="round"/>
<path d="M448.9 324.4 L455 323.3 L461.7 322.2 L466.1 324.4 L466.1 328.9" fill="none" stroke="#fff" stroke-width="1.1" stroke-linejoin="round" stroke-linecap="round"/>
<path d="M466.1 324.4 L469.4 325.6 L472.8 324.4 L477.2 326.7 L480.6 331.1 L481.7 335.6" fill="none" stroke="#fff" stroke-width="1.1" stroke-linejoin="round" stroke-linecap="round"/>
<path d="M447.2 352.8 L447.8 357.8 L452.8 358.3 L457.2 357.2 L458.3 353.3" fill="none" stroke="#fff" stroke-width="1.1" stroke-linejoin="round" stroke-linecap="round"/>
<path d="M435 347.8 L437.2 351.1 L439.4 355.6 L441.7 358.9 L442.8 362.8" fill="none" stroke="#fff" stroke-width="1.1" stroke-linejoin="round" stroke-linecap="round"/>
<path d="M439.4 346.7 L441.7 350 L444.4 348.9" fill="none" stroke="#fff" stroke-width="1.1" stroke-linejoin="round" stroke-linecap="round"/>
<path d="M441.7 350 L442.8 354.4 L446.1 357.8 L447.8 357.8" fill="none" stroke="#fff" stroke-width="1.1" stroke-linejoin="round" stroke-linecap="round"/>
<path d="M441.7 362.8 L443.9 361.1 L447.8 360.6 L452.8 361.1 L454.4 362.8" fill="none" stroke="#fff" stroke-width="1.1" stroke-linejoin="round" stroke-linecap="round"/>
<path d="M413.3 352.2 L415 348.9 L418.3 347.2 L421.7 346.7 L424.4 348.3" fill="none" stroke="#fff" stroke-width="1.1" stroke-linejoin="round" stroke-linecap="round"/>
<path d="M426.1 346.7 L428.3 349.1" fill="none" stroke="#fff" stroke-width="1.1" stroke-linejoin="round" stroke-linecap="round"/>
<path d="M430.6 345.6 L432.8 349.1 L435.6 353.3" fill="none" stroke="#fff" stroke-width="1.1" stroke-linejoin="round" stroke-linecap="round"/>
<path d="M437.2 351.1 L441.7 350" fill="none" stroke="#fff" stroke-width="1.1" stroke-linejoin="round" stroke-linecap="round"/>
<path d="M490.6 362.2 L494.4 364.4 L495.6 367.8 L492.8 370 L491.7 371.1" fill="none" stroke="#fff" stroke-width="1.1" stroke-linejoin="round" stroke-linecap="round"/>
<path d="M476.1 374.4 L480.6 373.3 L486.1 372.2 L491.7 371.1" fill="none" stroke="#fff" stroke-width="1.1" stroke-linejoin="round" stroke-linecap="round"/>
<path d="M490.6 361.7 L495 360 L499.4 360.6" fill="none" stroke="#fff" stroke-width="1.1" stroke-linejoin="round" stroke-linecap="round"/>
<path d="M494.4 364.4 L498.3 363.9 L502.8 366.7" fill="none" stroke="#fff" stroke-width="1.1" stroke-linejoin="round" stroke-linecap="round"/>
<path d="M475.6 380 L479.4 378.9 L484.4 375.6 L486.1 372.2" fill="none" stroke="#fff" stroke-width="1.1" stroke-linejoin="round" stroke-linecap="round"/>
<path d="M484.4 375.6 L486.1 380 L481.7 383.3 L477.2 385.6 L474.4 384.4" fill="none" stroke="#fff" stroke-width="1.1" stroke-linejoin="round" stroke-linecap="round"/>
<path d="M495.6 367.8 L496.1 372.2 L495 376.7 L498.3 381.1 L501.7 385.6 L502.8 388.9" fill="none" stroke="#fff" stroke-width="1.1" stroke-linejoin="round" stroke-linecap="round"/>
<path d="M481.7 383.3 L486.1 385.6 L492.8 388.9 L498.3 391.1 L502.8 390" fill="none" stroke="#fff" stroke-width="1.1" stroke-linejoin="round" stroke-linecap="round"/>
<path d="M415 306.7 L418.3 300 L423.3 293.3 L425 288.3 L428.3 283.3 L432.5 278.3 L436.7 273.3 L441.7 269.2 L447.5 266.7 L450 273.3 L448.3 280" fill="none" stroke="#fff" stroke-width="1.1" stroke-linejoin="round" stroke-linecap="round"/>
<path d="M447.5 266.7 L453.3 264.2 L460 265 L461.7 273.3 L460.8 281.7 L464.2 290 L463.3 295.8" fill="none" stroke="#fff" stroke-width="1.1" stroke-linejoin="round" stroke-linecap="round"/>
<path d="M450 307.5 L458.3 306.7" fill="none" stroke="#fff" stroke-width="1.1" stroke-linejoin="round" stroke-linecap="round"/>
<path d="M448.3 313.3 L458.3 312.5" fill="none" stroke="#fff" stroke-width="1.1" stroke-linejoin="round" stroke-linecap="round"/>
<path d="M458.3 298.7 L459.2 306.7 L458.3 313.3 L456.7 318.3 L451.7 320 L444.2 320" fill="none" stroke="#fff" stroke-width="1.1" stroke-linejoin="round" stroke-linecap="round"/>
<path d="M451.7 320 L451.7 328.3 L450 333.3" fill="none" stroke="#fff" stroke-width="1.1" stroke-linejoin="round" stroke-linecap="round"/>
<path d="M456.7 318.3 L465 318.3 L470 323.3 L468.3 330 L460 330.8 L451.7 329.2" fill="none" stroke="#fff" stroke-width="1.1" stroke-linejoin="round" stroke-linecap="round"/>
<path d="M431.7 323.3 L432.5 330 L430 335" fill="none" stroke="#fff" stroke-width="1.1" stroke-linejoin="round" stroke-linecap="round"/>
<path d="M415 325.3 L417.5 329.2 L420 330" fill="none" stroke="#fff" stroke-width="1.1" stroke-linejoin="round" stroke-linecap="round"/>
<path d="M412.5 327.5 L415.8 330.8 L418.3 333.3" fill="none" stroke="#fff" stroke-width="1.1" stroke-linejoin="round" stroke-linecap="round"/>
<path d="M401.7 374.8 L399.6 382.1 L391.2 386.2 L387.1 390.4 L379.8 392.5" fill="none" stroke="#fff" stroke-width="1.1" stroke-linejoin="round" stroke-linecap="round"/>
<path d="M379.8 392.5 L379.8 398.8 L372.5 398.8 L371.5 401.9" fill="none" stroke="#fff" stroke-width="1.1" stroke-linejoin="round" stroke-linecap="round"/>
<path d="M379.8 398.8 L387.1 404 L406.9 418.5 L420.4 409.2 L422.5 408.1 L430.8 410.2" fill="none" stroke="#fff" stroke-width="1.1" stroke-linejoin="round" stroke-linecap="round"/>
<path d="M387.1 404 L385 409.2 L385.4 426.9 L373.5 427.9" fill="none" stroke="#fff" stroke-width="1.1" stroke-linejoin="round" stroke-linecap="round"/>
<path d="M411 374.8 L412.1 381 L416.2 385.2 L419.4 380" fill="none" stroke="#fff" stroke-width="1.1" stroke-linejoin="round" stroke-linecap="round"/>
<path d="M419.4 380 L418.3 390.4 L421.5 398.8 L422.5 408.1" fill="none" stroke="#fff" stroke-width="1.1" stroke-linejoin="round" stroke-linecap="round"/>
<path d="M451.7 388.3 L451.7 412.3 L473.5 412.3" fill="none" stroke="#fff" stroke-width="1.1" stroke-linejoin="round" stroke-linecap="round"/>
<path d="M430.8 410.2 L431.9 409.2 L450.6 417.5 L451.7 412.3" fill="none" stroke="#fff" stroke-width="1.1" stroke-linejoin="round" stroke-linecap="round"/>
<path d="M430.8 410.2 L432.9 421.7 L429.8 430 L428.8 434.2" fill="none" stroke="#fff" stroke-width="1.1" stroke-linejoin="round" stroke-linecap="round"/>
<path d="M450.6 417.5 L447.5 427.9 L446.5 436.2 L451.7 440.4" fill="none" stroke="#fff" stroke-width="1.1" stroke-linejoin="round" stroke-linecap="round"/>
<path d="M406.9 418.5 L406.9 427.9 L401.7 431 L394.4 433.1 L387.1 432.1 L385.4 426.9" fill="none" stroke="#fff" stroke-width="1.1" stroke-linejoin="round" stroke-linecap="round"/>
<path d="M401.7 431 L407.9 434.2 L418.3 433.1 L428.8 434.2 L426.7 442.5 L420.4 450.8 L418.3 455" fill="none" stroke="#fff" stroke-width="1.1" stroke-linejoin="round" stroke-linecap="round"/>
<path d="M373.5 427.9 L372.5 434.2 L366.2 434.2" fill="none" stroke="#fff" stroke-width="1.1" stroke-linejoin="round" stroke-linecap="round"/>
<path d="M381.9 436.2 L380.8 449.8" fill="none" stroke="#fff" stroke-width="1.1" stroke-linejoin="round" stroke-linecap="round"/>
<path d="M387.1 438.3 L387.5 450.4" fill="none" stroke="#fff" stroke-width="1.1" stroke-linejoin="round" stroke-linecap="round"/>
<path d="M393.3 440.4 L393.3 450.4" fill="none" stroke="#fff" stroke-width="1.1" stroke-linejoin="round" stroke-linecap="round"/>
<path d="M398.5 438.3 L398.5 449.8" fill="none" stroke="#fff" stroke-width="1.1" stroke-linejoin="round" stroke-linecap="round"/>
<path d="M401.7 434.2 L402.3 449.8" fill="none" stroke="#fff" stroke-width="1.1" stroke-linejoin="round" stroke-linecap="round"/>
<path d="M372.5 434.2 L381.9 434.2 L387.1 433.1 L394.4 433.1" fill="none" stroke="#fff" stroke-width="1.1" stroke-linejoin="round" stroke-linecap="round"/>
<path d="M451.7 440.4 L460 442.5 L468.3 440.4 L472.5 434.2 L477.7 427.9 L478.8 422.7" fill="none" stroke="#fff" stroke-width="1.1" stroke-linejoin="round" stroke-linecap="round"/>
<path d="M451.7 440.4 L457.9 448.8 L468.3 452.9 L474.6 450.8" fill="none" stroke="#fff" stroke-width="1.1" stroke-linejoin="round" stroke-linecap="round"/>
<path d="M478.8 422.7 L487.1 434.2 L493.3 438.3 L495.4 443.5 L504.8 445.6" fill="none" stroke="#fff" stroke-width="1.1" stroke-linejoin="round" stroke-linecap="round"/>
<path d="M474.6 450.8 L485 452.9 L493.3 448.8 L495.4 443.5" fill="none" stroke="#fff" stroke-width="1.1" stroke-linejoin="round" stroke-linecap="round"/>
<path d="M474.6 450.8 L476.7 459.2 L473.5 465.4 L485 473.8" fill="none" stroke="#fff" stroke-width="1.1" stroke-linejoin="round" stroke-linecap="round"/>
<path d="M493.3 448.8 L492.3 459.2 L493.3 463.3" fill="none" stroke="#fff" stroke-width="1.1" stroke-linejoin="round" stroke-linecap="round"/>
<path d="M429.8 430 L430.8 442.5 L439.2 446.7 L447.5 443.5 L451.7 440.4" fill="none" stroke="#fff" stroke-width="1.1" stroke-linejoin="round" stroke-linecap="round"/>
<path d="M439.2 446.7 L443.3 452.9 L451.7 450.8 L460 452.9 L468.3 452.9" fill="none" stroke="#fff" stroke-width="1.1" stroke-linejoin="round" stroke-linecap="round"/>
<path d="M420.4 459.2 L430.8 459.2 L431.9 455 L439.2 446.7" fill="none" stroke="#fff" stroke-width="1.1" stroke-linejoin="round" stroke-linecap="round"/>
<path d="M493.3 427.9 L505.8 421.7 L514.2 419.6 L518.3 413.3" fill="none" stroke="#fff" stroke-width="1.1" stroke-linejoin="round" stroke-linecap="round"/>
<path d="M514.2 419.6 L515.2 408.1" fill="none" stroke="#fff" stroke-width="1.1" stroke-linejoin="round" stroke-linecap="round"/>
<path d="M475.6 392.5 L482.9 390.4 L487.1 386.2 L493.3 384.2 L498.5 382.1" fill="none" stroke="#fff" stroke-width="1.1" stroke-linejoin="round" stroke-linecap="round"/>
<path d="M435 453.8 L442.5 452.5 L455 451.2 L462.5 453.8 L463.8 462.5 L461.2 470 L462.5 477.5 L460 485 L461.2 493.8 L452.5 491.2 L446.2 493.8 L445 485 L437.5 481.2 L427.5 481.2" fill="none" stroke="#fff" stroke-width="1.1" stroke-linejoin="round" stroke-linecap="round"/>
<path d="M423.8 477.5 L430 470 L433.8 462.5 L435 453.8" fill="none" stroke="#fff" stroke-width="1.1" stroke-linejoin="round" stroke-linecap="round"/>
<path d="M446.2 493.8 L446.2 507.5 L424.5 507.5" fill="none" stroke="#fff" stroke-width="1.1" stroke-linejoin="round" stroke-linecap="round"/>
<path d="M446.2 507.5 L443.8 510 L442.5 530 L441.2 536.2 L435 536.2" fill="none" stroke="#fff" stroke-width="1.1" stroke-linejoin="round" stroke-linecap="round"/>
<path d="M443.8 510 L453.8 508.8 L460 517.5 L455 525 L448.8 528.8 L442.5 530" fill="none" stroke="#fff" stroke-width="1.1" stroke-linejoin="round" stroke-linecap="round"/>
<path d="M446.2 493.8 L447.5 501.2 L453.8 508.8" fill="none" stroke="#fff" stroke-width="1.1" stroke-linejoin="round" stroke-linecap="round"/>
<path d="M461.2 493.8 L470 490 L471.2 497.5 L465 502.5 L458.8 503.8 L453.8 508.8" fill="none" stroke="#fff" stroke-width="1.1" stroke-linejoin="round" stroke-linecap="round"/>
<path d="M460 517.5 L466.2 516.2 L470 510 L467.5 503.8 L465 502.5" fill="none" stroke="#fff" stroke-width="1.1" stroke-linejoin="round" stroke-linecap="round"/>
<path d="M471.2 492.5 L483.8 492.5" fill="none" stroke="#fff" stroke-width="1.1" stroke-linejoin="round" stroke-linecap="round"/>
<path d="M470 490 L472.5 500 L471.2 506.2" fill="none" stroke="#fff" stroke-width="1.1" stroke-linejoin="round" stroke-linecap="round"/>
<path d="M465 465 L480 475 L481.2 477.5" fill="none" stroke="#fff" stroke-width="1.1" stroke-linejoin="round" stroke-linecap="round"/>
<path d="M462.5 453.8 L470 455 L472.5 462.5 L465 465 L463.8 468.8" fill="none" stroke="#fff" stroke-width="1.1" stroke-linejoin="round" stroke-linecap="round"/>
<path d="M466.2 516.2 L467.5 528.8" fill="none" stroke="#fff" stroke-width="1.1" stroke-linejoin="round" stroke-linecap="round"/>
<path d="M456.2 536.2 L460 534.5 L462.5 537.5 L458.8 540 L456.2 536.2" fill="none" stroke="#fff" stroke-width="1.1" stroke-linejoin="round" stroke-linecap="round"/>
<path d="M420 465 L427.5 465 L430 470" fill="none" stroke="#fff" stroke-width="1.1" stroke-linejoin="round" stroke-linecap="round"/>
<path d="M421.2 471.2 L425.5 472" fill="none" stroke="#fff" stroke-width="1.1" stroke-linejoin="round" stroke-linecap="round"/>
<path d="M782.5 268.5 L782.5 285" fill="none" stroke="#fff" stroke-width="0.9" stroke-linejoin="round" stroke-linecap="round"/>
</svg>
<div class="abs" style="left:37.94px;top:37.01px;font-size:38.7px;color:#000;transform:scaleX(0.9453)"><b>Regional Insights, 2025</b></div>
<div class="abs" style="left:322.62px;top:130.55px;font-size:27.83px;color:#000;transform:scaleX(1.0369)">Total Market Size:</div>
<div class="abs" style="left:558.66px;top:128.58px;font-size:30.14px;color:#000;transform:scaleX(1.0727)"><b>USD 4.73 Bn</b></div>
<div class="abs" style="left:994.89px;top:266.7px;font-size:53.77px;color:#fff;transform:scaleX(0.9796)"><b>0.5%</b></div>
<div class="abs" style="left:995.5px;top:327.04px;font-size:19.13px;color:#fff;transform:scaleX(1.1192)"><b>North America</b> - Estimated</div>
<div class="abs" style="left:995.27px;top:355.94px;font-size:19.13px;color:#fff;transform:scaleX(1.1315)">Market Revenue Share,</div>
<div class="abs" style="left:995.89px;top:385.46px;font-size:18.99px;color:#fff;transform:scaleX(1.1672)">2025</div>
<div class="abs" style="left:995.62px;top:467.24px;font-size:33.48px;color:#fff;transform:scaleX(1.0372)">Haptic</div>
<div class="abs" style="left:997.34px;top:512.42px;font-size:33.62px;color:#fff;transform:scaleX(0.9872)">Technology For</div>
<div class="abs" style="left:995.68px;top:557.84px;font-size:33.48px;color:#fff;transform:scaleX(1.0163)">Mobile Devices</div>
<div class="abs" style="left:995.54px;top:604.13px;font-size:32.32px;color:#fff;transform:scaleX(1.1064)">Market</div>
<div class="abs" style="left:321.61px;top:640.63px;font-size:14.78px;color:#000;transform:scaleX(0.9537)"><b>Dominant Region</b></div>
<div class="abs" style="left:522.44px;top:640.63px;font-size:14.78px;color:#000;transform:scaleX(0.9234)"><b>Fastest Growing Region</b></div>
<div class="abs" style="left:38.48px;top:694.63px;font-size:14.2px;color:#000;transform:scaleX(0.9911)"><b>Source:</b> Primary Research, Desk Research, Paid subscriptions, CMI Data Repository</div>
<div style="position:absolute;left:997px;top:422px;width:189px;height:2px;background:#e9edf3"></div>
<div style="position:absolute;left:296px;top:639px;width:17px;height:17px;background:#19355f"></div>
<div style="position:absolute;left:497px;top:639px;width:17px;height:17px;background:#75c792"></div>
</body></html>
